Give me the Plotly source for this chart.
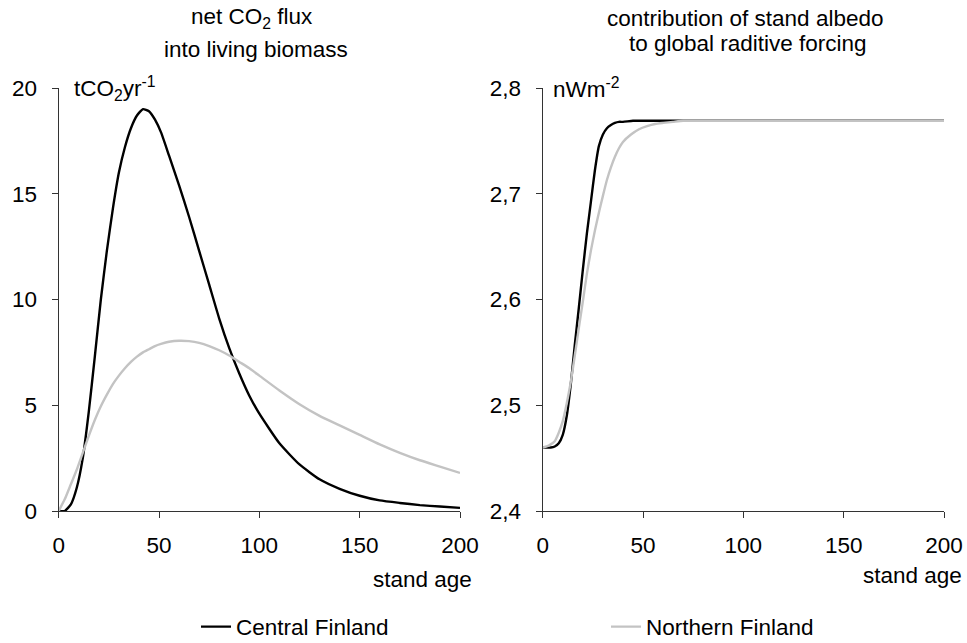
import plotly.graph_objects as go

# ---------------- data ----------------
age_flux = [0, 3, 6, 9, 12, 15, 18, 21, 24, 27, 30, 33, 36, 39, 42, 45, 48, 51, 55, 60, 65, 70,
            75, 80, 85, 90, 95, 100, 110, 120, 130, 140, 150, 160, 170, 180, 190, 200]
flux_central = [0, 0.0, 0.3, 1.1, 2.5, 4.7, 7.3, 10.0, 12.3, 14.3, 16.0, 17.2, 18.1, 18.7, 19.0,
                18.9, 18.5, 17.9, 16.8, 15.4, 13.9, 12.3, 10.7, 9.1, 7.7, 6.5, 5.45, 4.6, 3.2, 2.2,
                1.5, 1.05, 0.72, 0.5, 0.38, 0.28, 0.21, 0.15]
flux_northern = [0, 0.55, 1.25, 1.95, 2.75, 3.55, 4.3, 4.95, 5.5, 6.0, 6.4, 6.75, 7.05, 7.3, 7.5,
                 7.65, 7.8, 7.9, 8.0, 8.05, 8.03, 7.95, 7.8, 7.6, 7.35, 7.05, 6.75, 6.4, 5.7, 5.05,
                 4.5, 4.05, 3.6, 3.15, 2.75, 2.4, 2.1, 1.8]

age_alb_c = [0, 2, 4, 6, 8, 10, 12, 14, 16, 18, 20, 22, 24, 26, 28, 30, 32, 34, 36, 38, 40, 45,
             50, 60, 80, 100, 150, 200]
alb_central = [2.46, 2.46, 2.46, 2.461, 2.464, 2.472, 2.49, 2.52, 2.557, 2.592, 2.628, 2.662,
               2.692, 2.722, 2.745, 2.756, 2.762, 2.765, 2.767, 2.768, 2.768, 2.769, 2.769,
               2.769, 2.769, 2.769, 2.769, 2.769]
age_alb_n = [0, 2, 4, 6, 8, 10, 12, 14, 16, 18, 20, 22, 24, 26, 28, 30, 32, 34, 36, 38, 40, 44,
             48, 52, 56, 60, 65, 70, 80, 100, 150, 200]
alb_northern = [2.46, 2.461, 2.463, 2.466, 2.474, 2.485, 2.502, 2.522, 2.547, 2.573, 2.598,
                2.624, 2.646, 2.665, 2.682, 2.698, 2.713, 2.725, 2.735, 2.743, 2.749, 2.756,
                2.761, 2.764, 2.766, 2.767, 2.768, 2.769, 2.769, 2.769, 2.769, 2.769]

x_ticks = [0, 50, 100, 150, 200]
flux_ticks = [0, 5, 10, 15, 20]
alb_ticks = [2.4, 2.5, 2.6, 2.7, 2.8]
alb_ticktext = ["2,4", "2,5", "2,6", "2,7", "2,8"]

# ---------------- figure ----------------
W, H = 967, 643
FONT = "Liberation Sans, Arial, sans-serif"
FS = 22.5
BLACK = "#000000"
GRAY = "#c3c3c3"
AX = "#333333"


def px(x):
    return x / W


def py(y):
    return 1 - y / H


fig = go.Figure()
line_kw = dict(width=2.4, shape="spline", smoothing=0.5)
fig.add_trace(go.Scatter(x=age_flux, y=flux_central, mode="lines", name="Central Finland",
                         line=dict(color=BLACK, **line_kw), xaxis="x", yaxis="y"))
fig.add_trace(go.Scatter(x=age_flux, y=flux_northern, mode="lines", name="Northern Finland",
                         line=dict(color=GRAY, **line_kw), xaxis="x", yaxis="y"))
fig.add_trace(go.Scatter(x=age_alb_c, y=alb_central, mode="lines", name="Central Finland",
                         line=dict(color=BLACK, **line_kw), xaxis="x2", yaxis="y2",
                         showlegend=False))
fig.add_trace(go.Scatter(x=age_alb_n, y=alb_northern, mode="lines", name="Northern Finland",
                         line=dict(color=GRAY, **line_kw), xaxis="x2", yaxis="y2",
                         showlegend=False))

ydom = [py(511), py(88)]
common_axis = dict(showline=True, linecolor=AX, linewidth=1.3, ticks="outside", ticklen=6,
                   tickwidth=1.3, tickcolor=AX, showgrid=False, zeroline=False,
                   automargin=False, tickfont=dict(family=FONT, size=FS, color="#000"))

fig.update_layout(
    width=W, height=H,
    margin=dict(l=0, r=0, t=0, b=0, autoexpand=False),
    paper_bgcolor="white", plot_bgcolor="white",
    font=dict(family=FONT, size=FS, color="#000"),
    xaxis=dict(domain=[px(58.7), px(460)], range=[0, 200], tickvals=x_ticks, anchor="y",
               ticklabelstandoff=8, **common_axis),
    yaxis=dict(domain=ydom, range=[0, 20], tickvals=flux_ticks, anchor="x",
               ticklabelstandoff=10, **common_axis),
    xaxis2=dict(domain=[px(542.7), px(944)], range=[0, 200], tickvals=x_ticks, anchor="y2",
                ticklabelstandoff=8, **common_axis),
    yaxis2=dict(domain=ydom, range=[2.4, 2.8], tickvals=alb_ticks, ticktext=alb_ticktext,
                anchor="x2", ticklabelstandoff=10, **common_axis),
    legend=dict(orientation="h", x=px(196), y=py(627), xanchor="left", yanchor="middle",
                entrywidth=365, entrywidthmode="pixels", font=dict(family=FONT, size=FS),
                bgcolor="rgba(0,0,0,0)"),
    showlegend=True,
)

ann = [
    dict(text="net CO<sub>2</sub> flux", x=px(252), y=py(18)),
    dict(text="into living biomass", x=px(255.5), y=py(49)),
    dict(text="contribution of stand albedo", x=px(745), y=py(18)),
    dict(text="to global raditive forcing", x=px(748), y=py(43)),
]
for a in ann:
    fig.add_annotation(xref="paper", yref="paper", xanchor="center", yanchor="middle",
                       showarrow=False, font=dict(family=FONT, size=FS, color="#000"), **a)

fig.add_annotation(text="tCO<sub>2</sub>yr<sup>-1</sup>", xref="paper", yref="paper",
                   x=px(72), y=py(88), xanchor="left", yanchor="middle", showarrow=False,
                   font=dict(family=FONT, size=FS, color="#000"))
fig.add_annotation(text="nWm<sup>-2</sup>", xref="paper", yref="paper",
                   x=px(551), y=py(88), xanchor="left", yanchor="middle", showarrow=False,
                   font=dict(family=FONT, size=FS, color="#000"))
fig.add_annotation(text="stand age", xref="paper", yref="paper",
                   x=px(474), y=py(579), xanchor="right", yanchor="middle", showarrow=False,
                   font=dict(family=FONT, size=FS, color="#000"))
fig.add_annotation(text="stand age", xref="paper", yref="paper",
                   x=px(964), y=py(575), xanchor="right", yanchor="middle", showarrow=False,
                   font=dict(family=FONT, size=FS, color="#000"))

fig.write_html("out.html",
               config={"displayModeBar": False},
               post_script="document.body.style.margin='0px';"
                           "document.body.style.overflow='hidden';")
